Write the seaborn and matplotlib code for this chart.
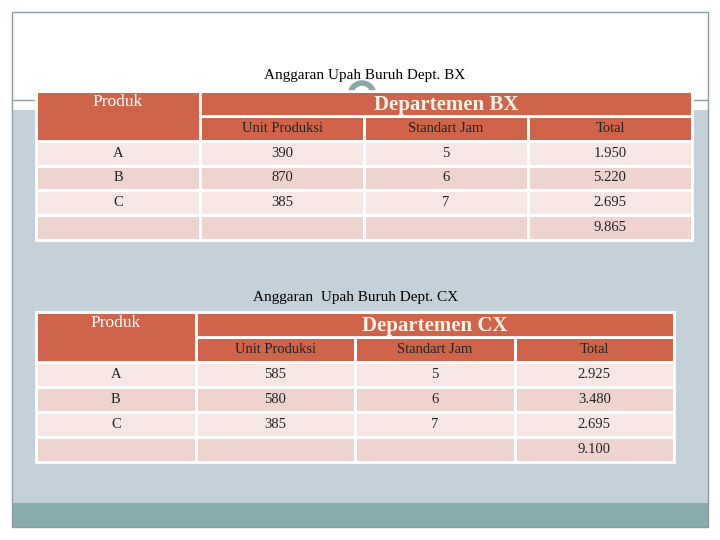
import numpy as np
import pandas as pd
import seaborn as sns
import matplotlib.pyplot as plt
from matplotlib.patches import Rectangle, Arc
from matplotlib.colors import ListedColormap

# Table data
produk = ["A", "B", "C", ""]
kolom = ["Unit Produksi", "Standart Jam", "Total"]

bx_unit = ["390", "870", "385", ""]
bx_jam = ["5", "6", "7", ""]
bx_total = ["1.950", "5.220", "2.695", "9.865"]

cx_unit = ["585", "580", "385", ""]
cx_jam = ["5", "6", "7", ""]
cx_total = ["2.925", "3.480", "2.695", "9.100"]

HEAD = "#D0644A"
LIGHT = "#F6E7E5"
DARK = "#EFD3CF"
SERIF = "Liberation Serif"

sns.set_theme(style="white")
plt.rcParams["font.family"] = [SERIF, "DejaVu Serif"]

fig = plt.figure(figsize=(7.2, 5.4), dpi=100)

# slide background
bg = fig.add_axes([0, 0, 1, 1])
bg.set_xlim(0, 720)
bg.set_ylim(540, 0)
bg.axis("off")
bg.add_patch(Rectangle((12, 110), 696, 393, facecolor="#C5D1D8", edgecolor="none"))
bg.add_patch(Rectangle((12, 503), 696, 24, facecolor="#8AACAC", edgecolor="none"))
bg.add_patch(Rectangle((12, 12), 696, 515, facecolor="none", edgecolor="#8E9CA2", lw=1))
bg.plot([12, 708], [100, 100], color="#8E9CA2", lw=1)
bg.add_patch(Arc((362, 96), 24, 26, theta1=180, theta2=360, color="#8AA6AA", lw=4))


def draw_table(box, title, dept, unit, jam, total):
    left, top, right, bottom = box
    ax = fig.add_axes([left / 720, 1 - bottom / 540,
                       (right - left) / 720, (bottom - top) / 540])
    shade = np.array([[2] * 4, [2] * 4, [0] * 4, [1] * 4, [0] * 4, [1] * 4])
    labels = [[""] * 4, [""] * 4] + [[produk[i], unit[i], jam[i], total[i]] for i in range(4)]
    df = pd.DataFrame(shade)
    sns.heatmap(df, ax=ax, cmap=ListedColormap([LIGHT, DARK, HEAD]), vmin=-0.5, vmax=2.5,
                cbar=False, linewidths=2, linecolor="white",
                annot=np.array(labels), fmt="",
                annot_kws={"color": "#222222", "fontsize": 10.5, "family": SERIF})
    ax.set_xticks([])
    ax.set_yticks([])
    # merged header cells
    ax.add_patch(Rectangle((0, 0), 1, 2, facecolor=HEAD, edgecolor="white", lw=2))
    ax.add_patch(Rectangle((1, 0), 3, 1, facecolor=HEAD, edgecolor="white", lw=2))
    ax.add_patch(Rectangle((0, 0), 4, 6, facecolor="none", edgecolor="white", lw=2, clip_on=False))
    ax.text(0.5, 0.45, "Produk", ha="center", va="center", color="white", fontsize=12.5)
    ax.text(2.5, 0.55, dept, ha="center", va="center", color="#FDF3E8",
            fontsize=15, fontweight="bold")
    for j, k in enumerate(kolom):
        ax.text(j + 1.5, 1.5, k, ha="center", va="center", color="#222222", fontsize=10.5)
    bg.text((left + right) / 2 + 1, top - 15, title, ha="center", va="center",
            fontsize=11, color="black", zorder=5)


draw_table((36, 91, 692, 240), "Anggaran Upah Buruh Dept. BX", "Departemen BX",
           bx_unit, bx_jam, bx_total)
draw_table((36, 312, 674, 462), "Anggaran  Upah Buruh Dept. CX", "Departemen CX",
           cx_unit, cx_jam, cx_total)

fig.savefig("out.png", dpi=100)
